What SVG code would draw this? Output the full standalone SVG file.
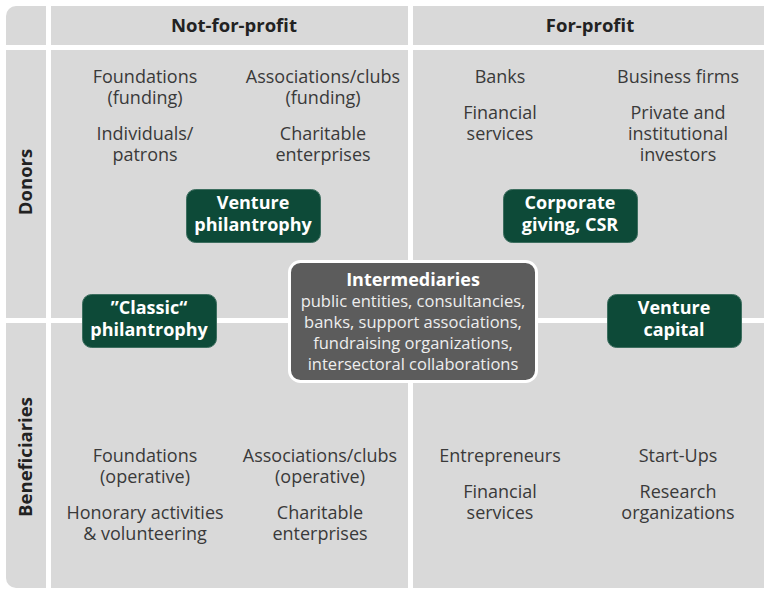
<svg xmlns="http://www.w3.org/2000/svg" width="764" height="589" viewBox="0 0 764 589">
<style>
.t{font-family:"Open Sans","Noto Sans","Liberation Sans",sans-serif;font-size:18px;fill:#3a3a3a;text-anchor:middle}
.h{font-family:"Open Sans","Noto Sans","Liberation Sans",sans-serif;font-size:18.5px;font-weight:bold;fill:#222;text-anchor:middle}
.g{fill:#0d4a38;stroke:#3d6e5f;stroke-width:1}
.w{font-family:"Open Sans","Noto Sans","Liberation Sans",sans-serif;font-size:18px;font-weight:bold;fill:#fff;text-anchor:middle}
.i{font-family:"Open Sans","Noto Sans","Liberation Sans",sans-serif;font-size:16.5px;fill:#eee;text-anchor:middle}
.line{fill:#fff}
</style>
<rect x="0" y="0" width="764" height="589" fill="#fff"/>
<rect x="6" y="6" width="775" height="582" rx="10" fill="#d9d9d9"/>
<g id="grid">
<rect class="line" x="46" y="0" width="5" height="589"/>
<rect class="line" x="408" y="0" width="5" height="589"/>
<rect class="line" x="0" y="45" width="764" height="5"/>
<rect class="line" x="0" y="318" width="764" height="5"/>
</g>
<g id="headers">
<text class="h" x="234" y="32">Not-for-profit</text>
<text class="h" x="590" y="32">For-profit</text>
<text class="h" transform="translate(32,182) rotate(-90)">Donors</text>
<text class="h" transform="translate(32,457) rotate(-90)">Beneficiaries</text>
</g>
<g id="donors-nfp">
<text class="t" x="145" y="83">Foundations</text>
<text class="t" x="145" y="104">(funding)</text>
<text class="t" x="145" y="140">Individuals/</text>
<text class="t" x="145" y="161">patrons</text>
<text class="t" x="323" y="83">Associations/clubs</text>
<text class="t" x="323" y="104">(funding)</text>
<text class="t" x="323" y="140">Charitable</text>
<text class="t" x="323" y="161">enterprises</text>
</g>
<g id="donors-fp">
<text class="t" x="500" y="83">Banks</text>
<text class="t" x="500" y="119">Financial</text>
<text class="t" x="500" y="140">services</text>
<text class="t" x="678" y="83">Business firms</text>
<text class="t" x="678" y="119">Private and</text>
<text class="t" x="678" y="140">institutional</text>
<text class="t" x="678" y="161">investors</text>
</g>
<g id="benef-nfp">
<text class="t" x="145" y="462">Foundations</text>
<text class="t" x="145" y="483">(operative)</text>
<text class="t" x="145" y="519">Honorary activities</text>
<text class="t" x="145" y="540">&amp; volunteering</text>
<text class="t" x="320" y="462">Associations/clubs</text>
<text class="t" x="320" y="483">(operative)</text>
<text class="t" x="320" y="519">Charitable</text>
<text class="t" x="320" y="540">enterprises</text>
</g>
<g id="benef-fp">
<text class="t" x="500" y="462">Entrepreneurs</text>
<text class="t" x="500" y="498">Financial</text>
<text class="t" x="500" y="519">services</text>
<text class="t" x="678" y="462">Start-Ups</text>
<text class="t" x="678" y="498">Research</text>
<text class="t" x="678" y="519">organizations</text>
</g>
<g id="connectors"></g>
<g id="venture-philanthropy">
<rect class="g" x="186.5" y="189.5" width="134" height="53" rx="9"/>
<text class="w" x="253" y="209">Venture</text>
<text class="w" x="253" y="231">philantrophy</text>
</g>
<g id="corporate-giving">
<rect class="g" x="503.5" y="189.5" width="134" height="53" rx="9"/>
<text class="w" x="570" y="209">Corporate</text>
<text class="w" x="570" y="231">giving, CSR</text>
</g>
<g id="classic-philanthropy">
<rect class="g" x="82.5" y="294.5" width="134" height="53" rx="9"/>
<text class="w" x="149" y="314">”Classic“</text>
<text class="w" x="149" y="336">philantrophy</text>
</g>
<g id="venture-capital">
<rect class="g" x="607.5" y="294.5" width="134" height="53" rx="9"/>
<text class="w" x="674" y="314">Venture</text>
<text class="w" x="674" y="336">capital</text>
</g>
<g id="intermediaries">
<rect x="289.5" y="261.5" width="247" height="120" rx="11" fill="#5c5c5c" stroke="#fff" stroke-width="3"/>
<text class="w" x="413" y="286">Intermediaries</text>
<text class="i" x="413" y="307">public entities, consultancies,</text>
<text class="i" x="413" y="328">banks, support associations,</text>
<text class="i" x="413" y="349">fundraising organizations,</text>
<text class="i" x="413" y="370">intersectoral collaborations</text>
</g>
</svg>
